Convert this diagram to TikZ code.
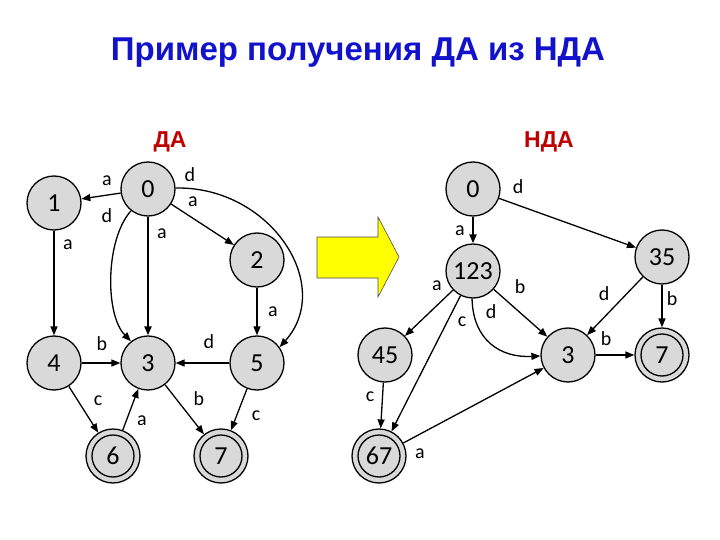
\documentclass[tikz,border=0pt]{standalone}
\usepackage{fontspec}
\setmainfont{Carlito}
\newfontfamily\arialfont{Liberation Sans}
\usetikzlibrary{arrows.meta}
\definecolor{nodegray}{RGB}{217,217,217}
\definecolor{titleblue}{RGB}{18,18,204}
\definecolor{labelred}{RGB}{192,0,0}
\definecolor{arrowyellow}{RGB}{255,255,0}
\begin{document}
\begin{tikzpicture}[x=1pt,y=-1pt,
 state/.style={circle,draw,fill=nodegray,line width=1.3pt,minimum size=54pt,inner sep=0pt,font=\fontsize{26}{26}\selectfont},
 accept/.style={state,path picture={\draw[line width=1.3pt] (path picture bounding box.center) circle[radius=21pt];}},
 edge/.style={line width=1.3pt,-{Triangle[length=9pt,width=7pt]}},
 thickedge/.style={edge,line width=2.2pt},
 lbl/.style={font=\fontsize{20}{20}\selectfont,inner sep=0pt},
 heading/.style={font=\arialfont\bfseries\fontsize{23}{23}\selectfont,text=labelred,anchor=base}]
\useasboundingbox (0,0) rectangle (720,540);
\fill[white] (0,0) rectangle (720,540);

\node[font=\arialfont\bfseries\fontsize{33}{33}\selectfont,text=titleblue,anchor=base] (title) at (358,61) {Пример получения ДА из НДА};
\node[heading] (hda) at (170,148) {ДА};
\node[heading] (hnda) at (549,148) {НДА};

% ---------- DA ----------
\node[state] (L0) at (148,189) {0};
\node[state] (L1) at (54,203) {1};
\node[state] (L2) at (257,260) {2};
\node[state] (L4) at (54,363) {4};
\node[state] (L3) at (148,363) {3};
\node[state] (L5) at (257,363) {5};
\node[accept] (L6) at (113,456) {6};
\node[accept] (L7) at (221,456) {7};

\draw[edge] (L0) -- (L1);
\draw[edge] (L0) -- (L2);
\draw[thickedge] (L0) -- (L3);
\draw[edge] (L0.232) .. controls (105,240) and (105,315) .. (L3.128);
\draw[edge] (L0.2) .. controls (270,186) and (335,285) .. (L5.35);
\draw[edge] (L1) -- (L4);
\draw[edge] (L2) -- (L5);
\draw[edge] (L4) -- (L3);
\draw[edge] (L5) -- (L3);
\draw[edge] (L4) -- (L6);
\draw[edge] (L6) -- (L3);
\draw[edge] (L3) -- (L7);
\draw[edge] (L5) -- (L7);

\node[lbl] (la01) at (107,181) {a};
\node[lbl] (ld03) at (107,216) {d};
\node[lbl] (ld05) at (190,175) {d};
\node[lbl] (la02) at (193,202) {a};
\node[lbl] (la03) at (162,234) {a};
\node[lbl] (la14) at (68,245) {a};
\node[lbl] (la25) at (273,312) {a};
\node[lbl] (lb43) at (102,344) {b};
\node[lbl] (ld53) at (209,342) {d};
\node[lbl] (lc46) at (98,401) {c};
\node[lbl] (la63) at (142,421) {a};
\node[lbl] (lb37) at (199,399) {b};
\node[lbl] (lc57) at (256,416) {c};

% ---------- big arrow ----------
\draw[fill=arrowyellow,draw=black!70,line width=0.6pt]
  (317,237) -- (378,237) -- (378,217) -- (399,257) -- (378,297) -- (378,278) -- (317,278) -- cycle;

% ---------- NDA ----------
\node[state] (R0) at (473,189) {0};
\node[state] (R123) at (473,271) {123};
\node[state] (R35) at (662,257) {35};
\node[state] (R45) at (385,355) {45};
\node[state] (R3) at (568,355) {3};
\node[accept] (R7) at (662,355) {7};
\node[accept] (R67) at (379,456) {67};

\draw[thickedge] (R0) -- (R123);
\draw[edge] (R0) -- (R35);
\draw[edge] (R123) -- (R45);
\draw[edge] (R123) -- (R67);
\draw[edge] (R123.268) .. controls (473,340) and (500,358) .. (R3.182);
\draw[edge] (R123) -- (R3);
\draw[edge] (R35) -- (R3);
\draw[edge] (R35) -- (R7);
\draw[edge] (R3) -- (R7);
\draw[edge] (R45) -- (R67);
\draw[edge] (R67) -- (R3);

\node[lbl] (rd035) at (518,187) {d};
\node[lbl] (ra0123) at (460,231) {a};
\node[lbl] (ra45) at (437,286) {a};
\node[lbl] (rb3) at (520,287) {b};
\node[lbl] (rd353) at (604,294) {d};
\node[lbl] (rb357) at (672,299) {b};
\node[lbl] (rc67) at (462,322) {c};
\node[lbl] (rd3) at (491,312) {d};
\node[lbl] (rb37) at (606,339) {b};
\node[lbl] (rc4567) at (370,397) {c};
\node[lbl] (ra673) at (420,454) {a};
\end{tikzpicture}
\end{document}
